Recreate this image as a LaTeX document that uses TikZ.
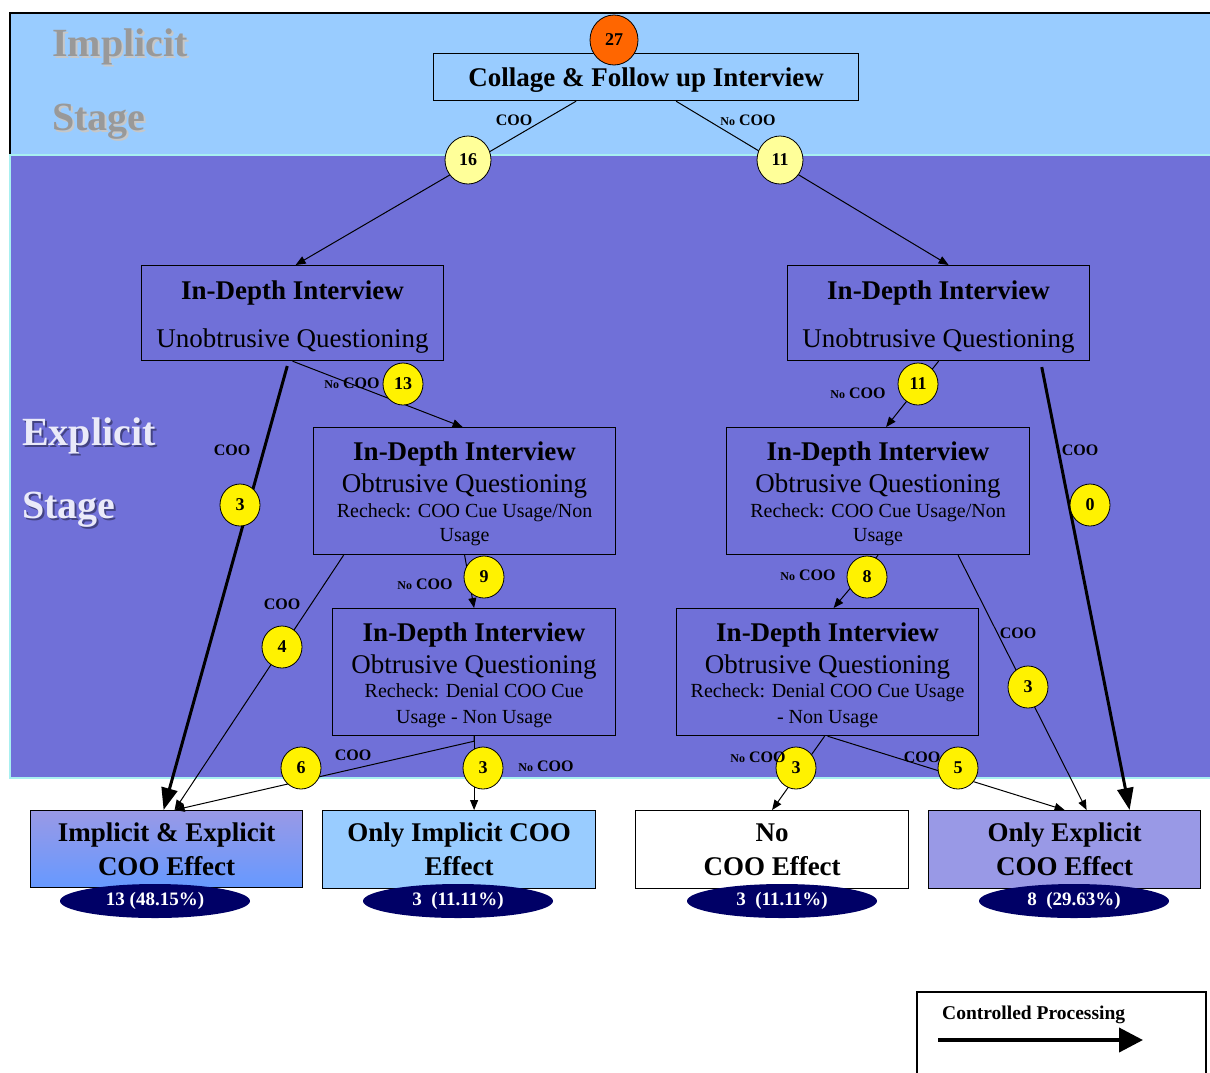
\documentclass[tikz,border=0pt]{standalone}
\usepackage{fontspec}
\setmainfont{Liberation Serif}
\usetikzlibrary{arrows.meta,shapes.geometric}
\definecolor{skyband}{HTML}{99CCFF}
\definecolor{violetband}{HTML}{7070D8}
\definecolor{bandedge}{HTML}{A8F0F0}
\definecolor{lavender}{HTML}{9999E6}
\definecolor{bluebox}{HTML}{6699FF}
\definecolor{navyoval}{HTML}{000066}
\definecolor{paleyellow}{HTML}{FFFF99}
\definecolor{orangecirc}{HTML}{FF6600}
\newcommand{\fsz}[1]{\fontsize{#1}{#1}\selectfont}
\newcommand{\nocoo}{{\fsz{12}No} COO}

\begin{document}
\begin{tikzpicture}[x=1pt,y=-1pt,
  box/.style={draw=black,line width=1.2pt,inner sep=0pt,anchor=north west},
  ttl/.style={font=\bfseries\fsz{27},inner sep=0pt,anchor=base},
  sub/.style={font=\fsz{27},inner sep=0pt,anchor=base},
  rck/.style={font=\fsz{20},inner sep=0pt,anchor=base},
  num/.style={ellipse,draw=black,line width=0.8pt,fill=yellow,minimum width=40,
    minimum height=42,inner sep=0pt,font=\bfseries\fsz{18}},
  palenum/.style={num,fill=paleyellow,minimum width=46,minimum height=48},
  topnum/.style={num,fill=orangecirc,minimum width=48,minimum height=50},
  lab/.style={font=\bfseries\fsz{16},inner sep=0pt},
  oval/.style={ellipse,fill=navyoval,minimum width=190,minimum height=34,
    inner sep=0pt,text=white,font=\bfseries\fsz{19}},
  flow/.style={line width=1pt,-{Triangle[length=10pt,width=8pt]}},
  strong/.style={line width=3pt,-{Triangle[length=22pt,width=16pt]}},
  stagelab/.style={font=\bfseries\fsz{40},inner sep=0pt,anchor=base west}]

\useasboundingbox (0,0) rectangle (1210,1072);
\fill[white] (0,0) rectangle (1210,1072);

% stage bands
\fill[skyband] (10,13) rectangle (1210,155);
\draw[black,line width=1.5pt] (10,155) -- (10,13) -- (1210,13);
\filldraw[fill=violetband,draw=bandedge,line width=1.5pt] (10,155) rectangle (1212,778);

% stage names with their drop shadows
\node[stagelab,text=black!22] at (54,58) {Implicit};
\node[stagelab,text=black!40] at (52,56) {Implicit};
\node[stagelab,text=black!22] at (54,132) {Stage};
\node[stagelab,text=black!40] at (52,130) {Stage};
\node[stagelab,text=violetband!60!black] at (24,447) {Explicit};
\node[stagelab,text=white!85!violetband] at (22,445) {Explicit};
\node[stagelab,text=violetband!60!black] at (24,520) {Stage};
\node[stagelab,text=white!85!violetband] at (22,518) {Stage};

% process boxes
\node[box,fill=skyband,minimum width=425,minimum height=47] (top) at (433,53) {};
\node[ttl] at ([yshift=-33pt]top.north) {Collage \& Follow up Interview};

\node[box,minimum width=302,minimum height=95] (L1) at (141,265) {};
\node[ttl] at ([yshift=-34pt]L1.north) {In-Depth Interview};
\node[sub] at ([yshift=-82pt]L1.north) {Unobtrusive Questioning};

\node[box,minimum width=302,minimum height=95] (R1) at (787,265) {};
\node[ttl] at ([yshift=-34pt]R1.north) {In-Depth Interview};
\node[sub] at ([yshift=-82pt]R1.north) {Unobtrusive Questioning};

\node[box,minimum width=302,minimum height=127] (L2) at (313,427) {};
\node[ttl] at ([yshift=-33pt]L2.north) {In-Depth Interview};
\node[sub] at ([yshift=-65pt]L2.north) {Obtrusive Questioning};
\node[rck] at ([yshift=-90pt]L2.north) {Recheck: COO Cue Usage/Non};
\node[rck] at ([yshift=-114pt]L2.north) {Usage};

\node[box,minimum width=303,minimum height=127] (R2) at (726,427) {};
\node[ttl] at ([yshift=-33pt]R2.north) {In-Depth Interview};
\node[sub] at ([yshift=-65pt]R2.north) {Obtrusive Questioning};
\node[rck] at ([yshift=-90pt]R2.north) {Recheck: COO Cue Usage/Non};
\node[rck] at ([yshift=-114pt]R2.north) {Usage};

\node[box,minimum width=283,minimum height=127] (L3) at (332,608) {};
\node[ttl] at ([yshift=-33pt]L3.north) {In-Depth Interview};
\node[sub] at ([yshift=-65pt]L3.north) {Obtrusive Questioning};
\node[rck] at ([yshift=-89pt]L3.north) {Recheck: Denial COO Cue};
\node[rck] at ([yshift=-115pt]L3.north) {Usage - Non Usage};

\node[box,minimum width=302,minimum height=127] (R3) at (676,608) {};
\node[ttl] at ([yshift=-33pt]R3.north) {In-Depth Interview};
\node[sub] at ([yshift=-65pt]R3.north) {Obtrusive Questioning};
\node[rck] at ([yshift=-89pt]R3.north) {Recheck: Denial COO Cue Usage};
\node[rck] at ([yshift=-115pt]R3.north) {- Non Usage};

% outcome boxes
\node[box,top color=lavender,bottom color=bluebox,minimum width=272,minimum height=77] (B1) at (30,810) {};
\node[ttl] at ([yshift=-31pt]B1.north) {Implicit \& Explicit};
\node[ttl] at ([yshift=-65pt]B1.north) {COO Effect};

\node[box,fill=skyband,minimum width=273,minimum height=78] (B2) at (322,810) {};
\node[ttl] at ([yshift=-31pt]B2.north) {Only Implicit COO};
\node[ttl] at ([yshift=-65pt]B2.north) {Effect};

\node[box,fill=white,minimum width=273,minimum height=78] (B3) at (635,810) {};
\node[ttl] at ([yshift=-31pt]B3.north) {No};
\node[ttl] at ([yshift=-65pt]B3.north) {COO Effect};

\node[box,fill=lavender,minimum width=272,minimum height=78] (B4) at (928,810) {};
\node[ttl] at ([yshift=-31pt]B4.north) {Only Explicit};
\node[ttl] at ([yshift=-65pt]B4.north) {COO Effect};

% connectors
\draw[flow] ([xshift=-70pt]top.south) -- ([xshift=3pt]L1.north);
\draw[flow] ([xshift=30pt]top.south) -- ([xshift=10pt]R1.north);
\draw[flow] (L1.south) -- ([xshift=-2pt]L2.north);
\draw[strong,shorten <=5pt] ([xshift=-4pt]L1.south) -- ([xshift=-3pt]B1.north);
\draw[strong,shorten <=6pt] ([xshift=102pt]R1.south) -- ([xshift=65pt]B4.north);
\draw[flow] ([xshift=-121pt]L2.south) -- ([xshift=8pt]B1.north);
\draw[flow] (L2.south) -- (L3.north);
\draw[flow] (L3.south) -- ++(0,5) -- ([xshift=8pt]B1.north);
\draw[flow] (L3.south) -- (L3.south |- B2.north);
\draw[flow] (R1.south) -- ([xshift=8pt]R2.north);
\draw[flow] ([xshift=80pt]R2.south) -- ([xshift=22pt]B4.north);
\draw[flow] (R2.south) -- ([xshift=6pt]R3.north);
\draw[flow] ([xshift=-3pt]R3.south) -- (B3.north);
\draw[flow] (R3.south) -- (B4.north);

% share ovals
\node[oval] (o1) at (155,901) {13 (48.15\%)};
\node[oval] (o2) at (458,901) {3\ \ (11.11\%)};
\node[oval] (o3) at (782,901) {3\ \ (11.11\%)};
\node[oval] (o4) at (1074,901) {8\ \ (29.63\%)};

% participant counts
\node[topnum] (c27) at (614,40) {27};
\node[palenum] (c16) at (468,160) {16};
\node[palenum] (c11a) at (780,160) {11};
\node[num] (c13) at (403,384) {13};
\node[num] (c3a) at (240,505) {3};
\node[num] (c11b) at (918,384) {11};
\node[num] (c0) at (1090,505) {0};
\node[num] (c9) at (484,577) {9};
\node[num] (c4) at (282,647) {4};
\node[num] (c8) at (867,577) {8};
\node[num] (c3b) at (1028,687) {3};
\node[num] (c6) at (301,768) {6};
\node[num] (c3c) at (483,768) {3};
\node[num] (c3d) at (796,768) {3};
\node[num] (c5) at (958,768) {5};

% branch labels
\node[lab] at (514,120) {COO};
\node[lab] at (748,120) {\nocoo};
\node[lab] at (352,383) {\nocoo};
\node[lab] at (232,450) {COO};
\node[lab] at (282,604) {COO};
\node[lab] at (425,584) {\nocoo};
\node[lab] at (353,755) {COO};
\node[lab] at (546,766) {\nocoo};
\node[lab] at (858,393) {\nocoo};
\node[lab] at (1080,450) {COO};
\node[lab] at (808,575) {\nocoo};
\node[lab] at (1018,633) {COO};
\node[lab] at (758,757) {\nocoo};
\node[lab] at (922,757) {COO};

% legend
\node[box,line width=1.5pt,minimum width=289,minimum height=95] (leg) at (916,991) {};
\node[font=\bfseries\fsz{19.5},inner sep=0pt,anchor=base west] (legtext)
  at ([xshift=26pt,yshift=-28pt]leg.north west) {Controlled Processing};
\draw[line width=4pt,-{Triangle[length=24pt,width=24pt]}]
  ([xshift=22pt,yshift=-49pt]leg.north west) -- ([xshift=227pt,yshift=-49pt]leg.north west);
\end{tikzpicture}
\end{document}
